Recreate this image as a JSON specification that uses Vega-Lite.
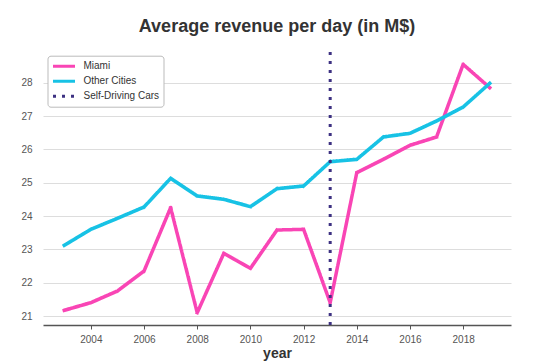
{
  "$schema": "https://vega.github.io/schema/vega-lite/v6.json",
  "width": 468,
  "height": 273,
  "autosize": {"type": "none"},
  "padding": {"left": 43, "top": 52, "right": 43, "bottom": 37},
  "background": "white",
  "title": {"text": "Average revenue per day (in M$)", "fontSize": 18, "fontWeight": "bold", "font": "Liberation Sans", "color": "#333333", "anchor": "middle", "baseline": "alphabetic", "offset": 1},
  "config": {
    "view": {"stroke": null},
    "font": "Liberation Sans",
    "legend": {
      "orient": "none", "legendX": 4.5, "legendY": 3.7, "title": null,
      "symbolType": "stroke", "symbolSize": 484, "symbolStrokeWidth": 3,
      "clipHeight": 13, "labelFontSize": 10, "labelColor": "#333333", "labelFont": "Liberation Sans",
      "strokeColor": "#bbbbbb", "fillColor": "white", "padding": 4, "cornerRadius": 3,
      "rowPadding": 2, "labelOffset": 7
    }
  },
  "datasets": {
    "lines": [
      {"year": 2003, "series": "Miami", "value": 21.17},
      {"year": 2004, "series": "Miami", "value": 21.4},
      {"year": 2005, "series": "Miami", "value": 21.75},
      {"year": 2006, "series": "Miami", "value": 22.35},
      {"year": 2007, "series": "Miami", "value": 24.25},
      {"year": 2008, "series": "Miami", "value": 21.1},
      {"year": 2009, "series": "Miami", "value": 22.88},
      {"year": 2010, "series": "Miami", "value": 22.43},
      {"year": 2011, "series": "Miami", "value": 23.58},
      {"year": 2012, "series": "Miami", "value": 23.6},
      {"year": 2013, "series": "Miami", "value": 21.4},
      {"year": 2014, "series": "Miami", "value": 25.3},
      {"year": 2015, "series": "Miami", "value": 25.7},
      {"year": 2016, "series": "Miami", "value": 26.12},
      {"year": 2017, "series": "Miami", "value": 26.37},
      {"year": 2018, "series": "Miami", "value": 28.55},
      {"year": 2019, "series": "Miami", "value": 27.85},
      {"year": 2003, "series": "Other Cities", "value": 23.12},
      {"year": 2004, "series": "Other Cities", "value": 23.6},
      {"year": 2005, "series": "Other Cities", "value": 23.93},
      {"year": 2006, "series": "Other Cities", "value": 24.27},
      {"year": 2007, "series": "Other Cities", "value": 25.13},
      {"year": 2008, "series": "Other Cities", "value": 24.6},
      {"year": 2009, "series": "Other Cities", "value": 24.5},
      {"year": 2010, "series": "Other Cities", "value": 24.28},
      {"year": 2011, "series": "Other Cities", "value": 24.82},
      {"year": 2012, "series": "Other Cities", "value": 24.9},
      {"year": 2013, "series": "Other Cities", "value": 25.63},
      {"year": 2014, "series": "Other Cities", "value": 25.7},
      {"year": 2015, "series": "Other Cities", "value": 26.37},
      {"year": 2016, "series": "Other Cities", "value": 26.48},
      {"year": 2017, "series": "Other Cities", "value": 26.85},
      {"year": 2018, "series": "Other Cities", "value": 27.27},
      {"year": 2019, "series": "Other Cities", "value": 27.98}
    ],
    "event": [
      {"year": 2013, "series": "Self-Driving Cars"}
    ]
  },
  "layer": [
    {
      "data": {"name": "lines"},
      "mark": {"type": "line", "strokeWidth": 3.5, "strokeJoin": "round", "strokeCap": "square"},
      "encoding": {
        "x": {
          "field": "year", "type": "quantitative",
          "scale": {"domain": [2002.2, 2019.8], "nice": false, "zero": false},
          "axis": {
            "title": "year", "values": [2004, 2006, 2008, 2010, 2012, 2014, 2016, 2018], "format": "d",
            "grid": false, "domainColor": "#555555", "domainWidth": 1.5, "tickColor": "#555555",
            "tickSize": 4, "tickWidth": 1, "labelColor": "#555555", "labelFontSize": 10, "labelPadding": 5,
            "titleFontSize": 14, "titleFontWeight": "bold", "titleColor": "#333333", "titlePadding": 2
          }
        },
        "y": {
          "field": "value", "type": "quantitative",
          "scale": {"domain": [20.73, 28.92], "nice": false, "zero": false},
          "axis": {
            "title": null, "values": [21, 22, 23, 24, 25, 26, 27, 28], "domain": false, "ticks": false,
            "labelPadding": 11, "gridColor": "#dddddd", "gridWidth": 1, "labelColor": "#555555", "labelFontSize": 10
          }
        },
        "color": {
          "field": "series", "type": "nominal",
          "scale": {"domain": ["Miami", "Other Cities", "Self-Driving Cars"], "range": ["#F945B5", "#17C2E5", "#3D3182"]}
        },
        "strokeDash": {
          "field": "series", "type": "nominal",
          "scale": {"domain": ["Miami", "Other Cities", "Self-Driving Cars"], "range": [[1, 0], [1, 0], [3, 6]]}
        }
      }
    },
    {
      "data": {"name": "event"},
      "mark": {"type": "rule", "strokeWidth": 3},
      "encoding": {
        "x": {"field": "year", "type": "quantitative"},
        "color": {"field": "series", "type": "nominal"},
        "strokeDash": {"field": "series", "type": "nominal"}
      }
    }
  ]
}
